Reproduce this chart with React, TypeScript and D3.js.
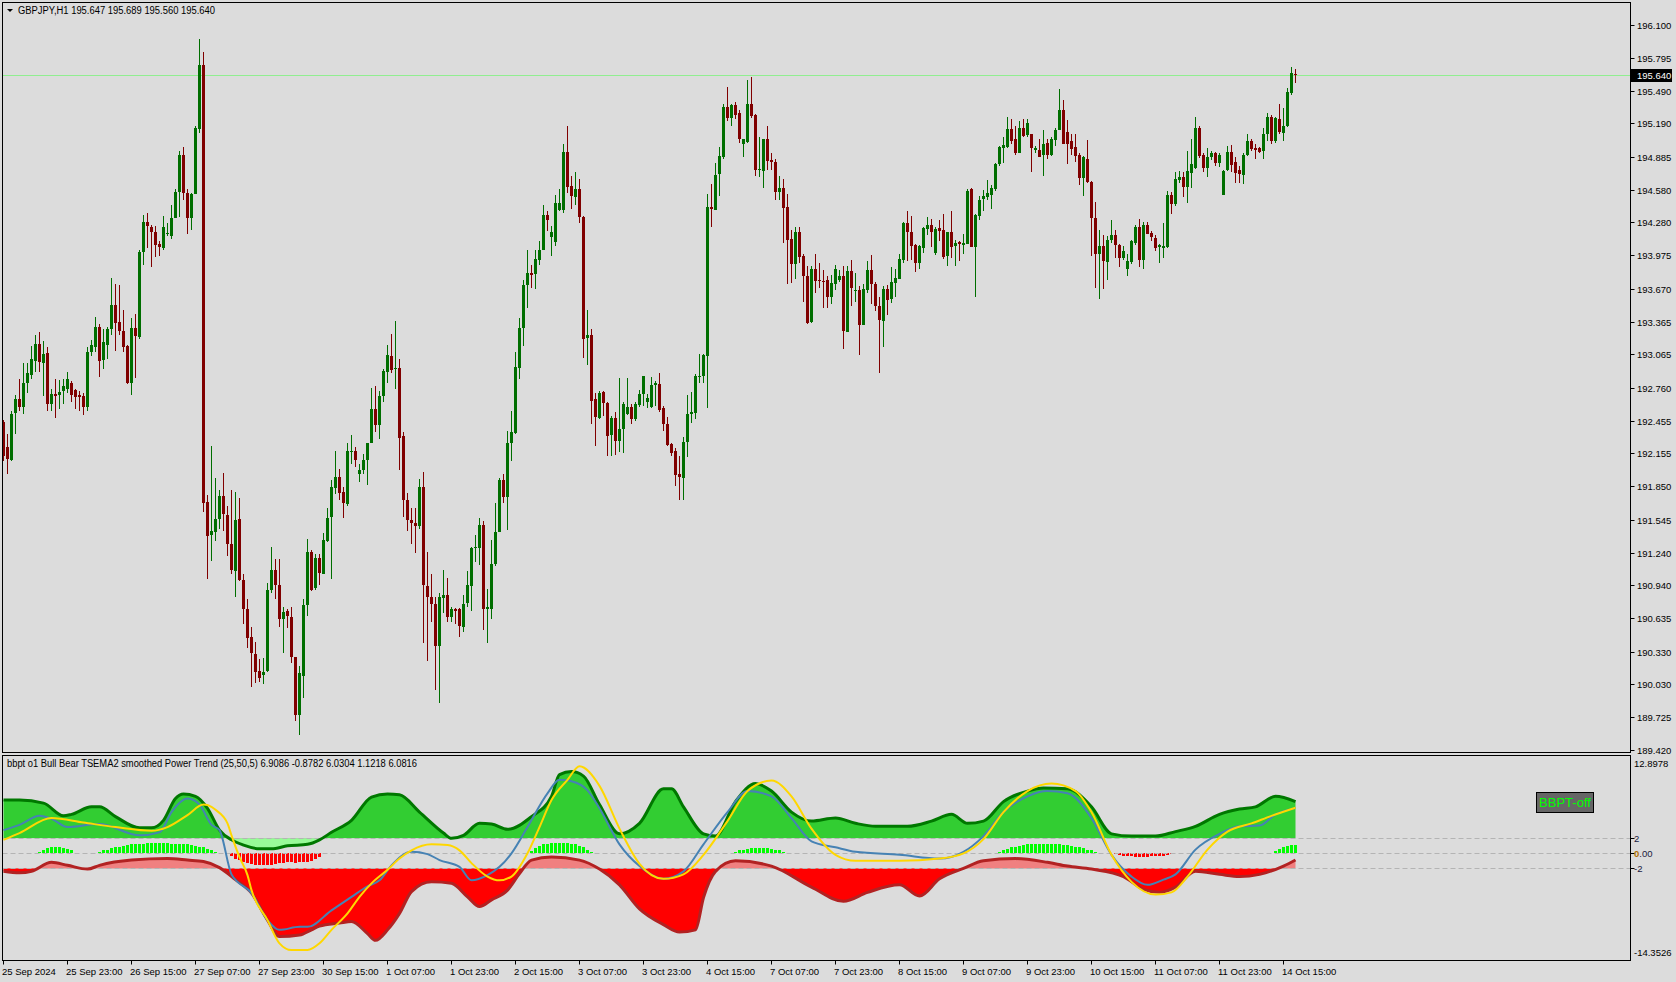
import React, { useEffect, useRef } from 'react';
import * as d3 from 'd3';

const W = 1676;
const H = 982;

// GBPJPY H1 candles, bar 0 = 25 Sep 07:00
const openP = [
  192.44, 192.21, 192.10, 192.52, 192.65, 192.58, 192.80, 192.87, 193.00, 193.16, 192.99, 193.08, 192.61, 192.70, 192.69, 192.72,
  192.75, 192.80, 192.74, 192.69, 192.68, 192.58, 193.09, 193.14, 193.32, 193.01, 193.15, 193.30, 193.52, 193.36, 193.28, 193.14,
  192.80, 193.31, 193.23, 194.00, 194.28, 194.24, 194.19, 194.08, 194.05, 194.17, 194.15, 194.32, 194.56, 194.90, 194.55, 194.32,
  194.54, 195.14, 195.73, 191.71, 191.40, 191.43, 191.55, 191.76, 191.59, 191.32, 191.07, 191.55, 190.99, 190.72, 190.46, 190.31,
  190.15, 190.11, 190.15, 190.90, 191.08, 190.94, 190.63, 190.70, 190.65, 190.28, 189.74, 190.11, 190.76, 191.25, 190.91, 191.19,
  191.05, 191.35, 191.56, 191.84, 191.94, 191.80, 191.69, 192.17, 192.18, 191.96, 192.00, 192.09, 192.25, 192.56, 192.41, 192.68,
  192.90, 193.05, 192.93, 192.94, 192.31, 191.72, 191.54, 191.51, 191.48, 191.84, 190.93, 190.83, 190.77, 190.38, 190.82, 190.85,
  190.65, 190.72, 190.72, 190.56, 190.77, 190.93, 191.28, 191.28, 191.49, 190.72, 190.73, 191.14, 191.43, 191.91, 191.75, 192.25,
  192.34, 192.94, 193.30, 193.70, 193.81, 193.80, 193.94, 194.03, 194.35, 194.14, 194.10, 194.40, 194.40, 194.93, 194.61, 194.52,
  194.59, 194.33, 193.21, 193.24, 192.65, 192.48, 192.72, 192.62, 192.32, 192.48, 192.27, 192.38, 192.52, 192.58, 192.47, 192.60,
  192.70, 192.62, 192.58, 192.78, 192.79, 192.57, 192.42, 192.24, 192.18, 191.96, 191.93, 192.26, 192.51, 192.53, 192.86, 192.87,
  193.05, 194.42, 194.40, 194.72, 194.88, 195.34, 195.24, 195.36, 195.29, 195.00, 195.02, 195.37, 195.27, 194.76, 194.76, 195.05,
  194.85, 194.84, 194.56, 194.60, 194.42, 194.13, 193.90, 194.19, 193.97, 193.79, 193.36, 193.85, 193.75, 193.74, 193.75, 193.59,
  193.71, 193.75, 193.79, 193.27, 193.83, 193.65, 193.66, 193.34, 193.66, 193.84, 193.71, 193.51, 193.38, 193.67, 193.57, 193.72,
  193.76, 193.93, 194.27, 194.19, 194.07, 193.90, 194.05, 194.22, 194.26, 194.00, 194.23, 194.21, 193.97, 194.19, 194.06, 194.10,
  194.07, 194.08, 194.59, 194.06, 194.34, 194.49, 194.51, 194.54, 194.59, 194.81, 194.96, 194.97, 195.14, 195.05, 194.92, 195.15,
  195.08, 195.09, 194.94, 194.95, 194.90, 195.01, 194.90, 195.04, 195.13, 195.31, 195.11, 195.03, 194.97, 194.90, 194.69, 194.86,
  194.65, 194.32, 193.99, 194.06, 193.92, 194.11, 194.16, 194.07, 193.96, 193.85, 193.92, 194.09, 194.24, 193.94, 194.26, 194.18,
  194.14, 194.05, 194.04, 194.05, 194.53, 194.45, 194.67, 194.70, 194.60, 194.74, 194.78, 195.15, 194.90, 194.78, 194.88, 194.92,
  194.83, 194.53, 194.76, 194.93, 194.84, 194.76, 194.72, 194.90, 195.03, 194.96, 194.96, 194.93, 195.09, 195.25, 195.03, 195.23,
  195.11, 195.17, 195.47, 195.647,
];
const highP = [
  192.46, 192.33, 192.54, 192.69, 192.84, 192.99, 192.99, 193.14, 193.24, 193.27, 193.19, 193.13, 192.75, 192.84, 192.83, 192.84,
  192.90, 192.82, 192.75, 192.73, 192.71, 193.13, 193.20, 193.41, 193.34, 193.30, 193.32, 193.77, 193.71, 193.70, 193.47, 193.15,
  193.40, 193.44, 194.03, 194.35, 194.37, 194.26, 194.25, 194.11, 194.34, 194.27, 194.44, 194.59, 194.94, 194.97, 194.59, 194.55,
  195.17, 195.97, 195.85, 191.77, 192.22, 191.93, 191.82, 191.97, 191.67, 191.82, 191.80, 191.74, 191.04, 190.81, 190.56, 190.42,
  190.26, 190.27, 190.96, 191.29, 191.18, 191.18, 190.74, 190.72, 190.74, 190.28, 190.20, 190.81, 191.37, 191.26, 191.23, 191.23,
  191.42, 191.65, 191.91, 192.18, 192.01, 191.84, 192.25, 192.32, 192.21, 192.06, 192.15, 192.25, 192.76, 192.77, 192.73, 192.93,
  193.15, 193.25, 193.37, 193.02, 192.35, 191.79, 191.65, 191.65, 191.92, 191.98, 191.25, 191.04, 190.83, 190.87, 191.08, 191.01,
  190.74, 190.73, 190.73, 190.85, 191.07, 191.29, 191.40, 191.56, 191.53, 190.91, 191.36, 191.70, 191.93, 191.96, 192.36, 192.54,
  193.09, 193.40, 193.75, 194.03, 193.89, 194.03, 194.11, 194.44, 194.38, 194.25, 194.53, 194.59, 195.00, 195.17, 194.71, 194.74,
  194.68, 194.34, 193.47, 193.30, 192.71, 192.73, 192.73, 192.63, 192.50, 192.53, 192.85, 192.63, 192.85, 192.61, 192.63, 192.74,
  192.87, 192.70, 192.86, 192.82, 192.89, 192.59, 192.49, 192.25, 192.20, 192.13, 192.30, 192.69, 192.72, 192.88, 193.07, 193.07,
  194.54, 194.63, 194.83, 194.97, 195.37, 195.53, 195.37, 195.39, 195.31, 195.05, 195.59, 195.62, 195.28, 195.07, 195.05, 195.17,
  194.92, 194.86, 194.71, 194.68, 194.54, 194.21, 194.24, 194.24, 193.99, 193.88, 193.88, 193.99, 193.91, 193.84, 193.79, 193.80,
  193.89, 193.84, 193.88, 193.88, 193.93, 193.81, 193.69, 193.71, 193.92, 193.98, 193.73, 193.59, 193.69, 193.70, 193.87, 193.85,
  193.99, 194.28, 194.38, 194.34, 194.08, 194.07, 194.24, 194.33, 194.31, 194.24, 194.30, 194.36, 194.19, 194.38, 194.12, 194.11,
  194.17, 194.59, 194.60, 194.36, 194.52, 194.58, 194.67, 194.62, 194.83, 194.98, 195.07, 195.25, 195.23, 195.17, 195.21, 195.23,
  195.23, 195.09, 194.98, 195.05, 195.13, 195.05, 195.07, 195.15, 195.51, 195.41, 195.22, 195.09, 195.09, 194.92, 194.89, 195.04,
  194.66, 194.47, 194.21, 194.16, 194.15, 194.30, 194.21, 194.08, 194.06, 193.99, 194.12, 194.26, 194.31, 194.28, 194.28, 194.20,
  194.16, 194.08, 194.27, 194.57, 194.56, 194.74, 194.75, 194.74, 194.94, 195.05, 195.25, 195.17, 194.92, 194.96, 194.94, 194.93,
  194.92, 194.76, 194.98, 194.99, 194.88, 194.80, 194.92, 195.09, 195.05, 195.00, 194.97, 195.15, 195.29, 195.27, 195.25, 195.37,
  195.33, 195.52, 195.71, 195.689,
];
const lowP = [
  192.08, 191.96, 192.08, 192.33, 192.54, 192.52, 192.71, 192.84, 192.90, 192.90, 192.68, 192.54, 192.54, 192.48, 192.56, 192.61,
  192.71, 192.63, 192.56, 192.54, 192.51, 192.54, 193.05, 193.09, 192.86, 192.93, 193.02, 193.24, 193.10, 193.24, 193.09, 192.79,
  192.69, 192.85, 193.21, 193.89, 194.04, 193.87, 193.96, 193.97, 194.03, 194.15, 194.13, 194.32, 194.33, 194.49, 194.17, 194.21,
  194.54, 195.10, 191.61, 191.00, 191.16, 191.35, 191.46, 191.44, 191.21, 191.04, 190.83, 190.98, 190.58, 190.36, 190.00, 190.04,
  190.05, 190.03, 190.14, 190.87, 190.81, 190.56, 190.32, 190.55, 190.22, 189.69, 189.56, 189.90, 190.66, 190.89, 190.90, 190.94,
  191.04, 191.34, 191.00, 191.78, 191.72, 191.56, 191.67, 192.06, 192.03, 191.89, 191.96, 191.86, 192.25, 192.35, 192.29, 192.63,
  192.80, 192.89, 192.75, 192.00, 191.57, 191.44, 191.32, 191.24, 191.46, 190.41, 190.24, 190.60, 189.98, 189.86, 190.68, 190.60,
  190.60, 190.58, 190.46, 190.51, 190.74, 190.70, 191.15, 191.13, 190.53, 190.41, 190.63, 191.12, 191.43, 191.70, 191.45, 192.08,
  192.33, 192.84, 193.14, 193.49, 193.68, 193.67, 193.89, 194.03, 194.20, 193.97, 194.06, 194.38, 194.37, 194.55, 194.40, 194.44,
  194.27, 193.03, 192.97, 192.42, 192.22, 192.47, 192.50, 192.13, 192.13, 192.14, 192.17, 192.16, 192.51, 192.42, 192.45, 192.58,
  192.59, 192.57, 192.57, 192.59, 192.53, 192.36, 192.22, 192.13, 191.85, 191.72, 191.72, 192.12, 192.43, 192.47, 192.80, 192.80,
  192.57, 194.24, 194.39, 194.52, 194.86, 195.21, 195.17, 195.23, 195.01, 194.88, 195.01, 195.24, 194.71, 194.70, 194.60, 194.76,
  194.76, 194.49, 194.49, 194.09, 193.71, 193.72, 193.76, 193.91, 193.55, 193.34, 193.35, 193.63, 193.68, 193.49, 193.49, 193.53,
  193.66, 193.73, 193.11, 193.27, 193.51, 193.55, 193.06, 193.34, 193.63, 193.53, 193.46, 192.89, 193.13, 193.43, 193.54, 193.59,
  193.76, 193.91, 193.92, 193.93, 193.82, 193.85, 194.00, 194.16, 194.05, 193.98, 194.11, 193.94, 193.88, 193.95, 193.88, 193.92,
  193.99, 194.08, 194.05, 193.59, 194.30, 194.38, 194.49, 194.40, 194.57, 194.80, 194.83, 194.96, 195.00, 194.90, 194.92, 195.07,
  195.07, 194.74, 194.92, 194.88, 194.71, 194.86, 194.89, 194.98, 195.13, 195.00, 194.82, 194.90, 194.84, 194.62, 194.52, 194.64,
  193.97, 193.68, 193.57, 193.67, 193.75, 194.09, 193.95, 193.87, 193.93, 193.79, 193.90, 194.07, 193.87, 193.85, 194.17, 194.11,
  194.02, 193.91, 193.95, 194.04, 194.36, 194.43, 194.64, 194.51, 194.46, 194.60, 194.77, 194.87, 194.74, 194.70, 194.85, 194.80,
  194.79, 194.53, 194.75, 194.74, 194.64, 194.64, 194.63, 194.89, 194.94, 194.86, 194.92, 194.86, 195.03, 195.00, 195.01, 195.09,
  195.03, 195.16, 195.45, 195.56,
];
const closeP = [
  192.13, 192.10, 192.52, 192.65, 192.58, 192.80, 192.89, 193.02, 193.16, 192.99, 193.07, 192.61, 192.70, 192.68, 192.72, 192.77,
  192.84, 192.69, 192.68, 192.67, 192.58, 193.09, 193.15, 193.32, 193.01, 193.18, 193.30, 193.52, 193.35, 193.28, 193.13, 192.80,
  193.31, 193.24, 194.01, 194.28, 194.24, 194.19, 194.07, 194.05, 194.24, 194.18, 194.32, 194.56, 194.90, 194.55, 194.32, 194.54,
  195.15, 195.73, 191.70, 191.40, 191.44, 191.55, 191.76, 191.59, 191.32, 191.08, 191.54, 190.99, 190.72, 190.45, 190.31, 190.14,
  190.09, 190.14, 190.90, 191.08, 190.94, 190.63, 190.69, 190.65, 190.28, 189.75, 190.13, 190.76, 191.25, 190.90, 191.19, 191.05,
  191.36, 191.56, 191.84, 191.94, 191.79, 191.70, 192.18, 192.18, 192.10, 192.00, 192.09, 192.25, 192.56, 192.41, 192.68, 192.91,
  193.06, 192.92, 192.94, 192.30, 191.72, 191.54, 191.51, 191.48, 191.84, 190.94, 190.83, 190.77, 190.38, 190.83, 190.85, 190.65,
  190.72, 190.70, 190.56, 190.77, 190.94, 191.28, 191.29, 191.49, 190.72, 190.74, 191.14, 191.43, 191.91, 191.75, 192.25, 192.35,
  192.95, 193.31, 193.70, 193.81, 193.79, 193.94, 194.03, 194.35, 194.30, 194.19, 194.46, 194.46, 194.93, 194.61, 194.52, 194.59,
  194.33, 193.21, 193.24, 192.63, 192.48, 192.71, 192.62, 192.32, 192.48, 192.27, 192.38, 192.61, 192.58, 192.47, 192.61, 192.70,
  192.87, 192.66, 192.78, 192.80, 192.55, 192.42, 192.23, 192.16, 191.96, 191.93, 192.26, 192.52, 192.53, 192.87, 192.87, 193.06,
  194.42, 194.40, 194.72, 194.89, 195.34, 195.24, 195.36, 195.27, 195.05, 195.05, 195.37, 195.26, 194.76, 194.77, 195.05, 194.85,
  194.83, 194.56, 194.60, 194.42, 194.12, 193.90, 194.19, 193.96, 193.79, 193.36, 193.85, 193.74, 193.74, 193.73, 193.59, 193.72,
  193.85, 193.79, 193.28, 193.83, 193.67, 193.66, 193.34, 193.67, 193.84, 193.71, 193.51, 193.38, 193.67, 193.57, 193.73, 193.77,
  193.94, 194.27, 194.19, 194.06, 193.90, 194.06, 194.23, 194.26, 194.20, 194.22, 194.20, 193.96, 194.19, 194.05, 194.09, 194.08,
  194.09, 194.57, 194.06, 194.35, 194.49, 194.52, 194.55, 194.60, 194.82, 194.97, 194.99, 195.14, 195.03, 194.92, 195.15, 195.08,
  195.19, 194.96, 194.96, 194.89, 195.00, 194.90, 195.05, 195.13, 195.31, 195.00, 195.00, 194.96, 194.89, 194.69, 194.88, 194.65,
  194.32, 193.99, 194.06, 193.92, 194.12, 194.16, 194.07, 193.95, 194.02, 193.92, 194.11, 194.24, 193.94, 194.26, 194.18, 194.14,
  194.05, 194.07, 194.06, 194.53, 194.45, 194.68, 194.70, 194.61, 194.75, 194.82, 195.15, 194.89, 194.78, 194.88, 194.92, 194.83,
  194.90, 194.75, 194.93, 194.81, 194.74, 194.72, 194.90, 195.03, 194.96, 194.94, 194.92, 195.09, 195.25, 195.03, 195.24, 195.11,
  195.17, 195.48, 195.65, 195.64,
];

const priceTicks = [
  '196.100', '195.795', '195.490', '195.190', '194.885', '194.580', '194.280', '193.975', '193.670', '193.365', '193.065', '192.760',
  '192.455', '192.155', '191.850', '191.545', '191.240', '190.940', '190.635', '190.330', '190.030', '189.725', '189.420',
];
const timeLabels = [
  '25 Sep 2024', '25 Sep 23:00', '26 Sep 15:00', '27 Sep 07:00', '27 Sep 23:00', '30 Sep 15:00', '1 Oct 07:00',
  '1 Oct 23:00', '2 Oct 15:00', '3 Oct 07:00', '3 Oct 23:00', '4 Oct 15:00', '7 Oct 07:00', '7 Oct 23:00',
  '8 Oct 15:00', '9 Oct 07:00', '9 Oct 23:00', '10 Oct 15:00', '11 Oct 07:00', '11 Oct 23:00', '14 Oct 15:00',
];
const lastPrice = 195.64;

// indicator lines, [bar, value]
const bullLine: [number, number][] = [
  [0, 7.1], [4, 7.1], [10, 6.7], [15, 5.0], [17, 5.2], [22, 6.2], [24, 6.2], [28, 4.9], [34, 3.4], [37, 3.4], [40, 4.4],
  [43, 7.3], [45, 7.9], [48, 7.6], [51, 6.0], [54, 3.1], [57, 1.8], [60, 1.1], [64, 0.6], [67, 0.6], [71, 1.0], [76, 1.2],
  [79, 1.8], [82, 2.8], [87, 4.4], [92, 7.5], [96, 7.9], [99, 7.8], [104, 5.5], [110, 2.7], [112, 2.0], [115, 2.4],
  [119, 4.0], [122, 3.9], [126, 3.2], [132, 4.9], [137, 7.6], [139, 10.5], [142, 10.9], [145, 10.3], [149, 6.5],
  [154, 2.6], [159, 4.0], [165, 8.6], [167, 8.6], [170, 6.2], [175, 2.6], [178, 2.3], [183, 6.9], [188, 9.3], [192, 8.3],
  [197, 5.5], [202, 4.3], [208, 4.7], [213, 4.0], [218, 3.6], [226, 3.6], [232, 4.3], [237, 5.2], [241, 4.0], [245, 4.3],
  [250, 6.9], [256, 8.3], [260, 8.7], [266, 8.6], [272, 6.2], [277, 2.6], [282, 2.3], [288, 2.3], [293, 2.9], [298, 3.6],
  [304, 5.2], [309, 5.9], [313, 6.2], [318, 7.6], [323, 6.9],
];
const bearLine: [number, number][] = [
  [0, -2.4], [4, -2.6], [7, -2.4], [12, -1.2], [16, -1.6], [21, -2.1], [24, -1.6], [32, -0.9], [41, -0.7], [46, -0.9],
  [50, -1.1], [54, -1.9], [58, -3.5], [62, -5.3], [66, -8.9], [69, -11.1], [74, -10.9], [77, -10.2], [79, -9.7], [84, -9.3],
  [87, -9.1], [91, -10.7], [93, -11.6], [96, -10.2], [99, -8.0], [102, -5.1], [107, -3.8], [112, -4.0], [116, -5.8],
  [119, -7.1], [122, -6.2], [126, -4.9], [129, -2.7], [132, -0.9], [137, -0.5], [144, -0.9], [149, -2.1], [154, -4.2],
  [159, -7.4], [165, -9.5], [169, -10.5], [173, -10.2], [175, -5.9], [178, -2.4], [183, -1.0], [192, -1.7], [202, -4.5],
  [210, -6.4], [216, -5.2], [224, -4.2], [229, -5.7], [234, -3.4], [240, -2.0], [245, -1.0], [253, -0.7], [261, -1.2],
  [266, -1.7], [272, -2.1], [280, -3.1], [285, -4.8], [289, -5.2], [293, -4.5], [298, -2.4], [304, -2.8], [309, -3.1],
  [314, -2.8], [320, -1.7], [323, -0.88],
];
const blueLine: [number, number][] = [
  [0, 3.1], [4, 3.8], [9, 5.0], [12, 4.6], [16, 3.5], [24, 3.9], [34, 2.4], [39, 2.8], [42, 5.5], [46, 7.3], [49, 6.5],
  [52, 3.8], [54, 3.1], [57, -2.8], [62, -5.3], [66, -8.9], [69, -10.2], [74, -9.8], [76, -9.8], [82, -7.6], [87, -5.8],
  [91, -4.4], [94, -3.6], [97, -1.6], [102, 0.2], [106, -0.1], [109, -0.9], [114, -1.8], [117, -3.6], [121, -2.9],
  [124, -1.8], [127, 0.0], [131, 3.5], [136, 8.0], [139, 9.8], [142, 9.6], [146, 8.4], [149, 6.0], [154, 1.2], [159, -1.7],
  [165, -3.4], [170, -2.4], [175, 1.2], [181, 5.5], [186, 8.3], [192, 7.6], [197, 4.7], [202, 1.6], [208, 0.8], [213, 0.2],
  [224, -0.2], [234, -0.7], [240, 0.2], [245, 2.3], [250, 5.5], [256, 7.6], [261, 8.3], [266, 8.0], [272, 4.7], [277, -0.2],
  [282, -3.1], [286, -4.2], [290, -3.5], [293, -2.8], [298, 0.5], [304, 2.6], [309, 3.6], [314, 3.7], [318, 5.2], [323, 6.03],
];
const yellowLine: [number, number][] = [
  [0, 1.8], [4, 2.7], [12, 4.7], [20, 4.1], [28, 3.5], [37, 3.0], [41, 3.5], [46, 5.1], [50, 6.5], [52, 6.2], [53, 5.8],
  [56, 4.0], [57, 2.4], [59, -0.5], [61, -2.9], [62, -4.9], [66, -8.9], [69, -12.0], [72, -12.9], [76, -12.9], [79, -12.0],
  [82, -10.2], [86, -8.0], [89, -5.8], [92, -4.0], [96, -2.2], [99, -0.7], [102, 0.4], [107, 1.2], [111, 1.1], [114, 0.4],
  [117, -1.3], [121, -3.1], [124, -3.6], [127, -3.1], [131, 0.0], [134, 3.5], [137, 7.1], [141, 9.8], [144, 11.6], [149, 9.0],
  [154, 3.3], [159, -1.4], [165, -3.4], [170, -2.8], [175, -0.2], [181, 4.3], [186, 8.3], [192, 9.7], [197, 7.6], [202, 3.3],
  [208, -0.2], [213, -1.0], [224, -1.0], [234, -0.7], [240, 0.0], [245, 1.9], [250, 5.5], [256, 8.3], [262, 9.3], [268, 8.3],
  [272, 5.5], [277, -0.2], [282, -3.8], [288, -5.5], [292, -5.2], [296, -3.1], [301, 0.5], [306, 2.9], [312, 4.0], [317, 5.0],
  [323, 6.08],
];
// histogram runs: first bar, then one value per bar
const histRuns: [number, number[]][] = [
  [9, [0.2, 0.5, 0.7, 0.8, 0.8, 0.8, 0.7, 0.6, 0.4]],
  [24, [0.2, 0.4, 0.5, 0.7, 0.8, 0.9, 1.0, 1.1, 1.2, 1.3, 1.3, 1.3, 1.4, 1.4, 1.4, 1.4, 1.4, 1.4, 1.3, 1.3, 1.3, 1.2, 1.2,
    1.1, 1.0, 0.9, 0.8, 0.6, 0.4, 0.2, 0.1]],
  [57, [-0.3, -0.7, -0.9, -1.1, -1.3, -1.4, -1.5, -1.6, -1.6, -1.6, -1.5, -1.4, -1.3, -1.3, -1.2, -1.2, -1.3, -1.2, -1.2,
    -1.1, -1.0, -0.8, -0.5]],
  [132, [0.3, 0.7, 1.0, 1.2, 1.3, 1.4, 1.4, 1.4, 1.4, 1.4, 1.3, 1.2, 1.0, 0.8, 0.5, 0.2]],
  [183, [0.2, 0.4, 0.5, 0.6, 0.7, 0.7, 0.7, 0.7, 0.7, 0.6, 0.5, 0.4, 0.2]],
  [249, [0.2, 0.4, 0.6, 0.8, 0.9, 1.0, 1.1, 1.2, 1.2, 1.3, 1.3, 1.3, 1.3, 1.2, 1.2, 1.2, 1.1, 1.1, 1.0, 0.9, 0.8, 0.7, 0.5,
    0.4, 0.2]],
  [278, [-0.1, -0.2, -0.3, -0.4, -0.4, -0.5, -0.5, -0.5, -0.5, -0.4, -0.4, -0.3, -0.3, -0.2, -0.1]],
  [318, [0.3, 0.6, 0.8, 1.0, 1.1, 1.12]],
];
const indLevels = [2, 0, -2];
const indMin = -14.3526;
const indMax = 12.8978;

const font = '"Liberation Sans", Arial, sans-serif';
const upColor = '#006e00';
const downColor = '#800000';

export default function App() {
  const ref = useRef<SVGSVGElement>(null);

  useEffect(() => {
    if (!ref.current) return;
    const svg = d3.select(ref.current);
    svg.selectAll('*').remove();

    const left = 2.5;
    const right = 1630.5;
    const mainTop = 2.5;
    const mainBottom = 752.5;
    const indTop = 755.5;
    const indBottom = 960.5;

    const x = d3.scaleLinear().domain([0, 323]).range([3.5, 1295.5]);
    const py = d3.scaleLinear().domain([189.42, 196.1]).range([750.4, 24.6]);
    const iy = d3.scaleLinear().domain([indMin, indMax]).range([961, 756.6]);

    svg.append('rect').attr('width', W).attr('height', H).attr('fill', '#dcdcdc');

    const defs = svg.append('defs');
    const clip = (id: string, y0: number, y1: number) =>
      defs.append('clipPath').attr('id', id)
        .append('rect').attr('x', left).attr('y', y0).attr('width', right - left).attr('height', y1 - y0);
    clip('mainClip', mainTop, mainBottom);
    clip('indClip', indTop, indBottom);
    clip('above2', indTop, iy(2));
    clip('below2', iy(2), indBottom);
    clip('aboveM2', indTop, iy(-2));
    clip('belowM2', iy(-2), indBottom);

    // ---- main price panel ----
    const main = svg.append('g').attr('clip-path', 'url(#mainClip)');
    const ly = Math.round(py(lastPrice)) + 0.5;

    main.append('line')
      .attr('x1', left).attr('x2', right)
      .attr('y1', ly).attr('y2', ly)
      .attr('stroke', '#90ee90').attr('stroke-width', 1);

    const bars = d3.range(openP.length).map(i => ({
      i, o: openP[i], h: highP[i], l: lowP[i], c: closeP[i],
    }));

    main.selectAll('line.wick')
      .data(bars)
      .join('line')
      .attr('class', 'wick')
      .attr('x1', d => x(d.i)).attr('x2', d => x(d.i))
      .attr('y1', d => Math.round(py(d.h))).attr('y2', d => Math.round(py(d.l)))
      .attr('stroke', d => (d.c >= d.o ? upColor : downColor))
      .attr('shape-rendering', 'crispEdges');

    main.selectAll('rect.body')
      .data(bars)
      .join('rect')
      .attr('class', 'body')
      .attr('x', d => x(d.i) - 1.5)
      .attr('width', 3)
      .attr('y', d => Math.round(py(Math.max(d.o, d.c))))
      .attr('height', d => Math.max(1, Math.round(Math.abs(py(d.o) - py(d.c)))))
      .attr('fill', d => (d.c >= d.o ? upColor : downColor))
      .attr('shape-rendering', 'crispEdges');

    svg.append('rect')
      .attr('x', left).attr('y', mainTop).attr('width', right - left).attr('height', mainBottom - mainTop)
      .attr('fill', 'none').attr('stroke', '#000');

    // header
    svg.append('path').attr('d', 'M7,9 L13,9 L10,12 Z').attr('fill', '#000');
    svg.append('text')
      .attr('x', 18).attr('y', 14)
      .attr('font-family', font).attr('font-size', 10)
      .attr('textLength', 197).attr('lengthAdjust', 'spacingAndGlyphs')
      .text('GBPJPY,H1  195.647 195.689 195.560 195.640');

    // right price axis
    const pAxis = svg.append('g').attr('font-family', font).attr('font-size', 9.5);
    priceTicks.forEach(t => {
      const yy = Math.round(py(+t)) + 0.5;
      pAxis.append('line').attr('x1', right).attr('x2', right + 4).attr('y1', yy).attr('y2', yy).attr('stroke', '#000');
      pAxis.append('text').attr('x', 1637).attr('y', yy + 3.5).text(t);
    });
    pAxis.append('rect').attr('x', 1631).attr('y', ly - 6.5).attr('width', 41).attr('height', 13).attr('fill', '#000');
    pAxis.append('text')
      .attr('x', 1637).attr('y', ly + 3.5).attr('fill', '#fff')
      .text(lastPrice.toFixed(3));

    // ---- indicator panel ----
    const ind = svg.append('g').attr('clip-path', 'url(#indClip)');
    const curve = d3.curveMonotoneX;

    const bullArea = d3.area<[number, number]>()
      .x(d => x(d[0])).y0(iy(2)).y1(d => iy(d[1])).curve(curve);
    const bearArea = d3.area<[number, number]>()
      .x(d => x(d[0])).y0(iy(-2)).y1(d => iy(d[1])).curve(curve);
    const line = d3.line<[number, number]>().x(d => x(d[0])).y(d => iy(d[1])).curve(curve);

    ind.append('g').attr('clip-path', 'url(#below2)')
      .append('path').datum(bullLine).attr('d', bullArea).attr('fill', '#98fb98');
    ind.append('g').attr('clip-path', 'url(#above2)')
      .append('path').datum(bullLine).attr('d', bullArea).attr('fill', '#32cd32');
    ind.append('g').attr('clip-path', 'url(#aboveM2)')
      .append('path').datum(bearLine).attr('d', bearArea).attr('fill', '#f08080');
    ind.append('g').attr('clip-path', 'url(#belowM2)')
      .append('path').datum(bearLine).attr('d', bearArea).attr('fill', '#ff0000');

    const hist = histRuns.flatMap(([start, vals]) => vals.map((v, k) => ({ i: start + k, v })));
    ind.selectAll('rect.hist')
      .data(hist)
      .join('rect')
      .attr('class', 'hist')
      .attr('x', d => x(d.i) - 1.5)
      .attr('width', 3)
      .attr('y', d => Math.min(iy(0), iy(d.v)))
      .attr('height', d => Math.abs(iy(d.v) - iy(0)))
      .attr('fill', d => (d.v >= 0 ? '#00ff00' : '#ff0000'))
      .attr('shape-rendering', 'crispEdges');

    indLevels.forEach(lv => {
      const yy = Math.round(iy(lv)) + 0.5;
      ind.append('line')
        .attr('x1', left).attr('x2', right)
        .attr('y1', yy).attr('y2', yy)
        .attr('stroke', '#b4b4b4').attr('stroke-dasharray', '5,3');
    });

    ind.append('path').datum(bullLine).attr('d', line)
      .attr('fill', 'none').attr('stroke', '#007800').attr('stroke-width', 3);
    ind.append('path').datum(bearLine).attr('d', line)
      .attr('fill', 'none').attr('stroke', '#b22222').attr('stroke-width', 3);
    ind.append('path').datum(blueLine).attr('d', line)
      .attr('fill', 'none').attr('stroke', '#4682b4').attr('stroke-width', 2);
    ind.append('path').datum(yellowLine).attr('d', line)
      .attr('fill', 'none').attr('stroke', '#ffd700').attr('stroke-width', 2);

    svg.append('rect')
      .attr('x', left).attr('y', indTop).attr('width', right - left).attr('height', indBottom - indTop)
      .attr('fill', 'none').attr('stroke', '#000');

    svg.append('text')
      .attr('x', 7).attr('y', 767)
      .attr('font-family', font).attr('font-size', 10)
      .attr('textLength', 410).attr('lengthAdjust', 'spacingAndGlyphs')
      .text('bbpt o1 Bull Bear TSEMA2 smoothed Power Trend (25,50,5) 6.9086 -0.8782 6.0304 1.1218 6.0816');

    // BBPT button
    svg.append('rect')
      .attr('x', 1536.5).attr('y', 792.5).attr('width', 57).attr('height', 20)
      .attr('fill', '#666').attr('stroke', '#000');
    svg.append('text')
      .attr('x', 1565).attr('y', 807).attr('text-anchor', 'middle')
      .attr('font-family', font).attr('font-size', 13).attr('fill', '#00ff00')
      .text('BBPT-off');

    // indicator scale
    const iAxis = svg.append('g').attr('font-family', font).attr('font-size', 9.5);
    iAxis.append('text').attr('x', 1634).attr('y', 767).text(indMax.toFixed(4));
    iAxis.append('text').attr('x', 1634).attr('y', 956).text(indMin.toFixed(4));
    [{ v: 2, t: '2' }, { v: 0, t: '0.00' }, { v: -2, t: '-2' }].forEach(d => {
      const yy = Math.round(iy(d.v)) + 0.5;
      iAxis.append('line').attr('x1', right).attr('x2', right + 4).attr('y1', yy).attr('y2', yy).attr('stroke', '#000');
      const tx = iAxis.append('text').attr('x', 1634).attr('y', yy + 3.5).attr('fill', '#1a1a40');
      if (d.v === 0) {
        tx.append('tspan').attr('fill', '#b07000').attr('font-weight', 'bold').text('0');
        tx.append('tspan').text('.00');
      } else {
        tx.text(d.t);
      }
    });

    // time axis
    const tAxis = svg.append('g').attr('font-family', font).attr('font-size', 9.5);
    timeLabels.forEach((t, k) => {
      const xx = x(k * 16);
      tAxis.append('line').attr('x1', xx).attr('x2', xx).attr('y1', indBottom).attr('y2', indBottom + 4).attr('stroke', '#000');
      tAxis.append('text').attr('x', xx - 1.5).attr('y', 975).text(t);
    });
  }, []);

  return (
    <svg
      ref={ref}
      width={W}
      height={H}
      style={{ position: 'absolute', left: 0, top: 0, display: 'block' }}
    />
  );
}
